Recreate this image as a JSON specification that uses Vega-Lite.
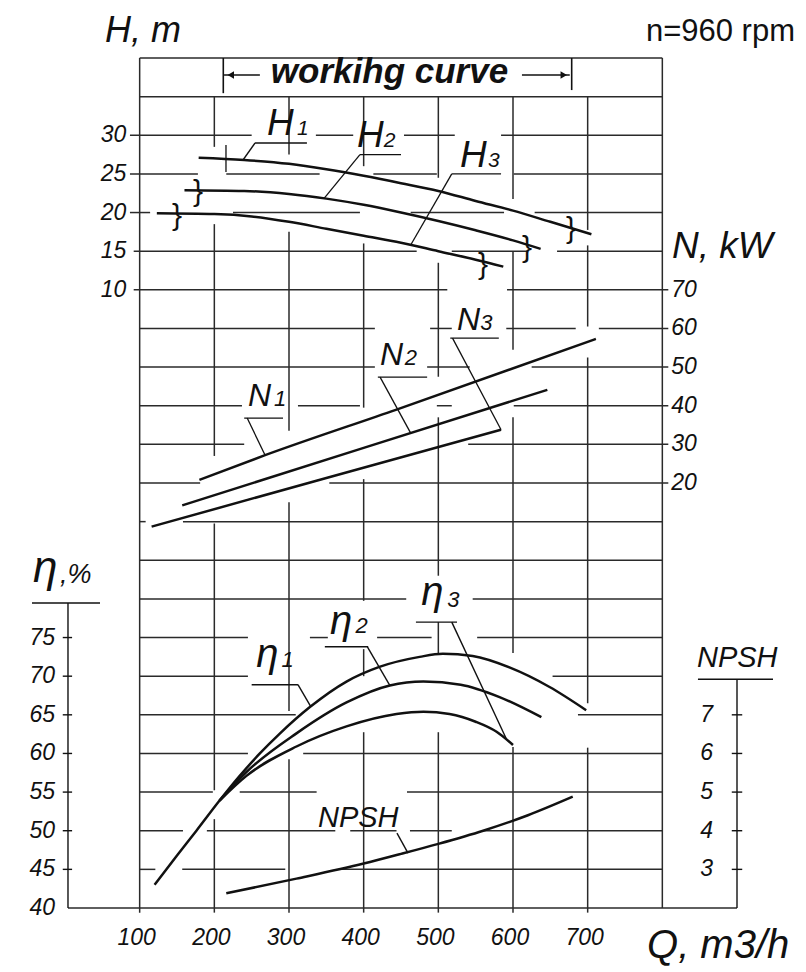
{
  "$schema": "https://vega.github.io/schema/vega-lite/v6.json",
  "width": 672,
  "height": 850,
  "autosize": {"type": "none"},
  "padding": {"left": 65, "top": 58, "right": 69, "bottom": 64},
  "background": "#ffffff",
  "config": {"view": {"stroke": null}},
  "datasets": {
    "hgrid": [
      {"row": 22, "q1": 100, "q2": 800},
      {"row": 21, "q1": 100, "q2": 800},
      {"row": 20, "q1": 87, "q2": 250}, {"row": 20, "q1": 336, "q2": 386}, {"row": 20, "q1": 454, "q2": 522}, {"row": 20, "q1": 584, "q2": 800},
      {"row": 19, "q1": 87, "q2": 178}, {"row": 19, "q1": 216, "q2": 341}, {"row": 19, "q1": 413, "q2": 498}, {"row": 19, "q1": 601, "q2": 800},
      {"row": 18, "q1": 87, "q2": 114}, {"row": 18, "q1": 225, "q2": 395}, {"row": 18, "q1": 463, "q2": 588}, {"row": 18, "q1": 629, "q2": 800},
      {"row": 17, "q1": 92, "q2": 471}, {"row": 17, "q1": 518, "q2": 619}, {"row": 17, "q1": 659, "q2": 800},
      {"row": 16, "q1": 92, "q2": 512}, {"row": 16, "q1": 592, "q2": 808},
      {"row": 15, "q1": 100, "q2": 415}, {"row": 15, "q1": 489, "q2": 518}, {"row": 15, "q1": 591, "q2": 684}, {"row": 15, "q1": 715, "q2": 808},
      {"row": 14, "q1": 100, "q2": 415}, {"row": 14, "q1": 485, "q2": 542}, {"row": 14, "q1": 625, "q2": 808},
      {"row": 13, "q1": 100, "q2": 237}, {"row": 13, "q1": 312, "q2": 395}, {"row": 13, "q1": 498, "q2": 518}, {"row": 13, "q1": 601, "q2": 808},
      {"row": 12, "q1": 100, "q2": 240}, {"row": 12, "q1": 540, "q2": 808},
      {"row": 11, "q1": 100, "q2": 181}, {"row": 11, "q1": 354, "q2": 808},
      {"row": 10, "q1": 100, "q2": 108}, {"row": 10, "q1": 158, "q2": 800},
      {"row": 9, "q1": 100, "q2": 800},
      {"row": 8, "q1": 100, "q2": 457}, {"row": 8, "q1": 546, "q2": 800},
      {"row": 7, "q1": 100, "q2": 245}, {"row": 7, "q1": 328, "q2": 352}, {"row": 7, "q1": 418, "q2": 491}, {"row": 7, "q1": 552, "q2": 800},
      {"row": 6, "q1": 100, "q2": 245}, {"row": 6, "q1": 653, "q2": 800},
      {"row": 5, "q1": 100, "q2": 309}, {"row": 5, "q1": 687, "q2": 800},
      {"row": 4, "q1": 100, "q2": 245}, {"row": 4, "q1": 319, "q2": 800},
      {"row": 3, "q1": 100, "q2": 198}, {"row": 3, "q1": 234, "q2": 337}, {"row": 3, "q1": 458, "q2": 800},
      {"row": 2, "q1": 100, "q2": 158}, {"row": 2, "q1": 190, "q2": 362}, {"row": 2, "q1": 382, "q2": 444}, {"row": 2, "q1": 462, "q2": 518}, {"row": 2, "q1": 560, "q2": 800},
      {"row": 1, "q1": 100, "q2": 121}, {"row": 1, "q1": 157, "q2": 295}, {"row": 1, "q1": 371, "q2": 800},
      {"row": 0, "q1": 4, "q2": 900}
    ],
    "vgrid": [
      {"q": 100, "r1": -0.12, "r2": 22},
      {"q": 200, "r1": -0.12, "r2": 2.3}, {"q": 200, "r1": 3.05, "r2": 9.95}, {"q": 200, "r1": 11.7, "r2": 17.7}, {"q": 200, "r1": 19.7, "r2": 21},
      {"q": 300, "r1": -0.12, "r2": 3.85}, {"q": 300, "r1": 5.1, "r2": 10.5}, {"q": 300, "r1": 12.35, "r2": 17.5}, {"q": 300, "r1": 19.5, "r2": 21},
      {"q": 400, "r1": -0.12, "r2": 4.55}, {"q": 400, "r1": 6.0, "r2": 6.7}, {"q": 400, "r1": 7.95, "r2": 11.1}, {"q": 400, "r1": 12.95, "r2": 17.2}, {"q": 400, "r1": 19.2, "r2": 21},
      {"q": 500, "r1": -0.12, "r2": 4.55}, {"q": 500, "r1": 6.6, "r2": 7.4}, {"q": 500, "r1": 8.6, "r2": 12.7}, {"q": 500, "r1": 13.75, "r2": 16.7}, {"q": 500, "r1": 18.9, "r2": 21},
      {"q": 600, "r1": -0.12, "r2": 4.17}, {"q": 600, "r1": 6.6, "r2": 12.7}, {"q": 600, "r1": 14.45, "r2": 17.0}, {"q": 600, "r1": 18.35, "r2": 21},
      {"q": 700, "r1": -0.12, "r2": 4.15}, {"q": 700, "r1": 5.3, "r2": 14.25}, {"q": 700, "r1": 15.05, "r2": 17.15}, {"q": 700, "r1": 17.55, "r2": 21},
      {"q": 800, "r1": 0, "r2": 22}
    ],
    "head": [
      {"c": "H1", "q": 179, "h": 27.1}, {"c": "H1", "q": 240, "h": 26.8}, {"c": "H1", "q": 300, "h": 26.3}, {"c": "H1", "q": 350, "h": 25.6},
      {"c": "H1", "q": 400, "h": 24.75}, {"c": "H1", "q": 450, "h": 23.8}, {"c": "H1", "q": 500, "h": 22.8}, {"c": "H1", "q": 550, "h": 21.5},
      {"c": "H1", "q": 600, "h": 20.25}, {"c": "H1", "q": 650, "h": 18.8}, {"c": "H1", "q": 705, "h": 17.2},
      {"c": "H2", "q": 160, "h": 22.9}, {"c": "H2", "q": 240, "h": 22.8}, {"c": "H2", "q": 300, "h": 22.4}, {"c": "H2", "q": 350, "h": 21.8},
      {"c": "H2", "q": 400, "h": 21.0}, {"c": "H2", "q": 450, "h": 20.0}, {"c": "H2", "q": 500, "h": 18.9}, {"c": "H2", "q": 550, "h": 17.7},
      {"c": "H2", "q": 600, "h": 16.4}, {"c": "H2", "q": 637, "h": 15.3},
      {"c": "H3", "q": 123, "h": 19.9}, {"c": "H3", "q": 200, "h": 19.8}, {"c": "H3", "q": 250, "h": 19.5}, {"c": "H3", "q": 300, "h": 18.8},
      {"c": "H3", "q": 350, "h": 17.9}, {"c": "H3", "q": 400, "h": 17.0}, {"c": "H3", "q": 450, "h": 16.1}, {"c": "H3", "q": 500, "h": 15.0},
      {"c": "H3", "q": 550, "h": 13.9}, {"c": "H3", "q": 587, "h": 13.0}
    ],
    "power": [
      {"c": "N1", "q": 180, "n": 20.8}, {"c": "N1", "q": 268, "n": 27.2}, {"c": "N1", "q": 444, "n": 39.0}, {"c": "N1", "q": 711, "n": 57.3},
      {"c": "N2", "q": 157, "n": 14.2}, {"c": "N2", "q": 400, "n": 29.1}, {"c": "N2", "q": 646, "n": 44.1},
      {"c": "N3", "q": 116, "n": 8.7}, {"c": "N3", "q": 350, "n": 21.3}, {"c": "N3", "q": 584, "n": 33.8}
    ],
    "eff": [
      {"c": "η1", "q": 120, "e": 43.0}, {"c": "η1", "q": 150, "e": 46.8}, {"c": "η1", "q": 176, "e": 50.0}, {"c": "η1", "q": 207, "e": 53.9},
      {"c": "η1", "q": 234, "e": 57.1}, {"c": "η1", "q": 260, "e": 59.9}, {"c": "η1", "q": 288, "e": 62.6}, {"c": "η1", "q": 328, "e": 66.0},
      {"c": "η1", "q": 377, "e": 69.3}, {"c": "η1", "q": 421, "e": 71.2}, {"c": "η1", "q": 475, "e": 72.5}, {"c": "η1", "q": 506, "e": 72.9},
      {"c": "η1", "q": 546, "e": 72.6}, {"c": "η1", "q": 596, "e": 71.1}, {"c": "η1", "q": 649, "e": 68.6}, {"c": "η1", "q": 698, "e": 65.6},
      {"c": "η2", "q": 207, "e": 53.9}, {"c": "η2", "q": 243, "e": 57.6}, {"c": "η2", "q": 310, "e": 62.6}, {"c": "η2", "q": 377, "e": 66.6},
      {"c": "η2", "q": 435, "e": 68.8}, {"c": "η2", "q": 480, "e": 69.3}, {"c": "η2", "q": 530, "e": 68.9},
      {"c": "η2", "q": 582, "e": 67.3}, {"c": "η2", "q": 638, "e": 64.7},
      {"c": "η3", "q": 207, "e": 53.9}, {"c": "η3", "q": 243, "e": 57.1}, {"c": "η3", "q": 310, "e": 60.9}, {"c": "η3", "q": 377, "e": 63.5},
      {"c": "η3", "q": 444, "e": 65.1}, {"c": "η3", "q": 480, "e": 65.4}, {"c": "η3", "q": 515, "e": 65.1}, {"c": "η3", "q": 550, "e": 64.1},
      {"c": "η3", "q": 578, "e": 62.8}, {"c": "η3", "q": 600, "e": 61.1}
    ],
    "npsh": [
      {"q": 216, "m": 2.38}, {"q": 310, "m": 2.76}, {"q": 400, "m": 3.15}, {"q": 450, "m": 3.4},
      {"q": 500, "m": 3.66}, {"q": 560, "m": 4.0}, {"q": 620, "m": 4.4}, {"q": 680, "m": 4.88}
    ]
  },
  "resolve": {"scale": {"y": "independent"}},
  "layer": [
    {
      "data": {"name": "hgrid"},
      "mark": {"type": "rule", "stroke": "#2a2a2a", "strokeWidth": 1.5},
      "encoding": {
        "x": {"field": "q1", "type": "quantitative", "scale": {"domain": [0, 900], "nice": false, "zero": false}, "axis": null},
        "x2": {"field": "q2"},
        "y": {"field": "row", "type": "quantitative", "scale": {"domain": [0, 22], "nice": false, "zero": false}, "axis": null}
      }
    },
    {
      "data": {"name": "vgrid"},
      "mark": {"type": "rule", "stroke": "#2a2a2a", "strokeWidth": 1.5},
      "encoding": {
        "x": {"field": "q", "type": "quantitative", "scale": {"domain": [0, 900], "nice": false, "zero": false}, "axis": null},
        "y": {"field": "r1", "type": "quantitative", "scale": {"domain": [0, 22], "nice": false, "zero": false}, "axis": null},
        "y2": {"field": "r2"}
      }
    },
    {
      "data": {"values": [{"q": 212, "r1": 21.09, "r2": 22}, {"q": 678.6, "r1": 21.17, "r2": 22}]},
      "mark": {"type": "rule", "stroke": "#111111", "strokeWidth": 1.6},
      "encoding": {
        "x": {"field": "q", "type": "quantitative", "scale": {"domain": [0, 900], "nice": false, "zero": false}, "axis": null},
        "y": {"field": "r1", "type": "quantitative", "scale": {"domain": [0, 22], "nice": false, "zero": false}, "axis": null},
        "y2": {"field": "r2"}
      }
    },
    {
      "data": {"values": [{"q1": 213, "q2": 261, "row": 21.56}, {"q1": 612, "q2": 676, "row": 21.56}]},
      "mark": {"type": "rule", "stroke": "#111111", "strokeWidth": 1.6},
      "encoding": {
        "x": {"field": "q1", "type": "quantitative", "scale": {"domain": [0, 900], "nice": false, "zero": false}, "axis": null},
        "x2": {"field": "q2"},
        "y": {"field": "row", "type": "quantitative", "scale": {"domain": [0, 22], "nice": false, "zero": false}, "axis": null}
      }
    },
    {
      "data": {"values": [{"q": 222, "row": 21.56, "dir": "left"}, {"q": 668, "row": 21.56, "dir": "right"}]},
      "mark": {"type": "point", "filled": true, "size": 55, "color": "#111111", "opacity": 1},
      "encoding": {
        "x": {"field": "q", "type": "quantitative", "scale": {"domain": [0, 900], "nice": false, "zero": false}, "axis": null},
        "y": {"field": "row", "type": "quantitative", "scale": {"domain": [0, 22], "nice": false, "zero": false}, "axis": null},
        "shape": {"field": "dir", "type": "nominal", "scale": {"domain": ["left", "right"], "range": ["triangle-left", "triangle-right"]}, "legend": null}
      }
    },
    {
      "data": {"values": [{"t": "workihg curve", "q": 434.6, "row": 21.35}]},
      "mark": {"type": "text", "align": "center", "baseline": "alphabetic", "font": "Liberation Sans", "fontSize": 35, "fontWeight": "bold", "fontStyle": "italic", "color": "#111111"},
      "encoding": {
        "x": {"field": "q", "type": "quantitative", "scale": {"domain": [0, 900], "nice": false, "zero": false}, "axis": null},
        "y": {"field": "row", "type": "quantitative", "scale": {"domain": [0, 22], "nice": false, "zero": false}, "axis": null},
        "text": {"field": "t"}
      }
    },
    {
      "data": {"name": "head"},
      "mark": {"type": "line", "stroke": "#111111", "strokeWidth": 2.5, "interpolate": "monotone"},
      "encoding": {
        "x": {"field": "q", "type": "quantitative", "scale": {"domain": [0, 900], "nice": false, "zero": false}, "axis": null},
        "y": {"field": "h", "type": "quantitative", "scale": {"domain": [-70, 40], "nice": false, "zero": false}, "axis": null},
        "detail": {"field": "c", "type": "nominal"}
      }
    },
    {
      "data": {"values": [
        {"q1": 254.5, "h1": 29.0, "q2": 324, "h2": 29.0},
        {"q1": 254.5, "h1": 29.0, "q2": 238.4, "h2": 26.8},
        {"q1": 395, "h1": 27.5, "q2": 450, "h2": 27.5},
        {"q1": 395, "h1": 27.5, "q2": 347, "h2": 21.84},
        {"q1": 518, "h1": 25.0, "q2": 584, "h2": 25.0},
        {"q1": 518, "h1": 25.0, "q2": 463, "h2": 15.8},
        {"q1": 215.6, "h1": 25.25, "q2": 215.6, "h2": 28.74}
      ]},
      "mark": {"type": "rule", "stroke": "#111111", "strokeWidth": 1.3},
      "encoding": {
        "x": {"field": "q1", "type": "quantitative", "scale": {"domain": [0, 900], "nice": false, "zero": false}, "axis": null},
        "x2": {"field": "q2"},
        "y": {"field": "h1", "type": "quantitative", "scale": {"domain": [-70, 40], "nice": false, "zero": false}, "axis": null},
        "y2": {"field": "h2"}
      }
    },
    {
      "data": {"values": [{"q": 178, "h": 22.6}, {"q": 150, "h": 19.55}, {"q": 677.7, "h": 17.87}, {"q": 618.7, "h": 15.45}, {"q": 559.8, "h": 13.17}]},
      "mark": {"type": "text", "text": "}", "align": "center", "baseline": "middle", "font": "Liberation Sans", "fontSize": 30, "color": "#111111"},
      "encoding": {
        "x": {"field": "q", "type": "quantitative", "scale": {"domain": [0, 900], "nice": false, "zero": false}, "axis": null},
        "y": {"field": "h", "type": "quantitative", "scale": {"domain": [-70, 40], "nice": false, "zero": false}, "axis": null}
      }
    },
    {
      "data": {"values": [{"t": "H", "q": 270.5, "h": 30.0}, {"t": "H", "q": 391, "h": 28.5}, {"t": "H", "q": 529, "h": 25.9}]},
      "mark": {"type": "text", "align": "left", "baseline": "alphabetic", "font": "Liberation Sans", "fontSize": 37, "fontStyle": "italic", "color": "#111111"},
      "encoding": {
        "x": {"field": "q", "type": "quantitative", "scale": {"domain": [0, 900], "nice": false, "zero": false}, "axis": null},
        "y": {"field": "h", "type": "quantitative", "scale": {"domain": [-70, 40], "nice": false, "zero": false}, "axis": null},
        "text": {"field": "t"}
      }
    },
    {
      "data": {"values": [{"t": "1", "q": 310.7, "h": 30.0}, {"t": "2", "q": 427, "h": 28.5}, {"t": "3", "q": 566.5, "h": 25.9}]},
      "mark": {"type": "text", "align": "left", "baseline": "alphabetic", "font": "Liberation Sans", "fontSize": 21, "fontStyle": "italic", "color": "#111111"},
      "encoding": {
        "x": {"field": "q", "type": "quantitative", "scale": {"domain": [0, 900], "nice": false, "zero": false}, "axis": null},
        "y": {"field": "h", "type": "quantitative", "scale": {"domain": [-70, 40], "nice": false, "zero": false}, "axis": null},
        "text": {"field": "t"}
      }
    },
    {
      "data": {"values": [{"h": 30}, {"h": 25}, {"h": 20}, {"h": 15}, {"h": 10}]},
      "mark": {"type": "text", "align": "right", "baseline": "middle", "font": "Liberation Sans", "fontSize": 23, "fontStyle": "italic", "color": "#111111"},
      "encoding": {
        "x": {"datum": 82, "type": "quantitative", "scale": {"domain": [0, 900], "nice": false, "zero": false}, "axis": null},
        "y": {"field": "h", "type": "quantitative", "scale": {"domain": [-70, 40], "nice": false, "zero": false}, "axis": null},
        "text": {"field": "h", "type": "quantitative"}
      }
    },
    {
      "data": {"name": "power"},
      "mark": {"type": "line", "stroke": "#111111", "strokeWidth": 2.5, "interpolate": "monotone"},
      "encoding": {
        "x": {"field": "q", "type": "quantitative", "scale": {"domain": [0, 900], "nice": false, "zero": false}, "axis": null},
        "y": {"field": "n", "type": "quantitative", "scale": {"domain": [-90, 130], "nice": false, "zero": false}, "axis": null},
        "detail": {"field": "c", "type": "nominal"}
      }
    },
    {
      "data": {"values": [
        {"q1": 240, "n1": 36.8, "q2": 292, "n2": 36.8},
        {"q1": 244, "n1": 36.8, "q2": 268, "n2": 27.2},
        {"q1": 419, "n1": 47.4, "q2": 485, "n2": 47.4},
        {"q1": 422, "n1": 47.4, "q2": 463, "n2": 32.9},
        {"q1": 516, "n1": 57.5, "q2": 581, "n2": 57.5},
        {"q1": 519, "n1": 57.5, "q2": 584, "n2": 33.8}
      ]},
      "mark": {"type": "rule", "stroke": "#111111", "strokeWidth": 1.3},
      "encoding": {
        "x": {"field": "q1", "type": "quantitative", "scale": {"domain": [0, 900], "nice": false, "zero": false}, "axis": null},
        "x2": {"field": "q2"},
        "y": {"field": "n1", "type": "quantitative", "scale": {"domain": [-90, 130], "nice": false, "zero": false}, "axis": null},
        "y2": {"field": "n2"}
      }
    },
    {
      "data": {"values": [{"t": "N", "q": 245, "n": 40.0}, {"t": "N", "q": 422, "n": 50.6}, {"t": "N", "q": 525, "n": 59.6}]},
      "mark": {"type": "text", "align": "left", "baseline": "alphabetic", "font": "Liberation Sans", "fontSize": 32, "fontStyle": "italic", "color": "#111111"},
      "encoding": {
        "x": {"field": "q", "type": "quantitative", "scale": {"domain": [0, 900], "nice": false, "zero": false}, "axis": null},
        "y": {"field": "n", "type": "quantitative", "scale": {"domain": [-90, 130], "nice": false, "zero": false}, "axis": null},
        "text": {"field": "t"}
      }
    },
    {
      "data": {"values": [{"t": "1", "q": 280, "n": 40.0}, {"t": "2", "q": 455, "n": 50.6}, {"t": "3", "q": 556, "n": 59.6}]},
      "mark": {"type": "text", "align": "left", "baseline": "alphabetic", "font": "Liberation Sans", "fontSize": 22, "fontStyle": "italic", "color": "#111111"},
      "encoding": {
        "x": {"field": "q", "type": "quantitative", "scale": {"domain": [0, 900], "nice": false, "zero": false}, "axis": null},
        "y": {"field": "n", "type": "quantitative", "scale": {"domain": [-90, 130], "nice": false, "zero": false}, "axis": null},
        "text": {"field": "t"}
      }
    },
    {
      "data": {"values": [{"n": 70}, {"n": 60}, {"n": 50}, {"n": 40}, {"n": 30}, {"n": 20}]},
      "mark": {"type": "text", "align": "left", "baseline": "middle", "font": "Liberation Sans", "fontSize": 23, "fontStyle": "italic", "color": "#111111"},
      "encoding": {
        "x": {"datum": 812, "type": "quantitative", "scale": {"domain": [0, 900], "nice": false, "zero": false}, "axis": null},
        "y": {"field": "n", "type": "quantitative", "scale": {"domain": [-90, 130], "nice": false, "zero": false}, "axis": null},
        "text": {"field": "n", "type": "quantitative"}
      }
    },
    {
      "data": {"name": "eff"},
      "mark": {"type": "line", "stroke": "#111111", "strokeWidth": 2.5, "interpolate": "monotone"},
      "encoding": {
        "x": {"field": "q", "type": "quantitative", "scale": {"domain": [0, 900], "nice": false, "zero": false}, "axis": null},
        "y": {"field": "e", "type": "quantitative", "scale": {"domain": [40, 150], "nice": false, "zero": false}, "axis": null},
        "detail": {"field": "c", "type": "nominal"}
      }
    },
    {
      "data": {"values": [
        {"q1": 250, "e1": 68.9, "q2": 312, "e2": 68.9},
        {"q1": 312, "e1": 68.9, "q2": 329, "e2": 66.1},
        {"q1": 348, "e1": 73.8, "q2": 406, "e2": 73.8},
        {"q1": 405, "e1": 73.8, "q2": 435, "e2": 68.8},
        {"q1": 470, "e1": 77.0, "q2": 525, "e2": 77.0},
        {"q1": 518, "e1": 77.0, "q2": 591, "e2": 61.9},
        {"q1": 4, "e1": 40, "q2": 4, "e2": 79.47},
        {"q1": -44.2, "e1": 79.47, "q2": 46.9, "e2": 79.47}
      ]},
      "mark": {"type": "rule", "stroke": "#111111", "strokeWidth": 1.4},
      "encoding": {
        "x": {"field": "q1", "type": "quantitative", "scale": {"domain": [0, 900], "nice": false, "zero": false}, "axis": null},
        "x2": {"field": "q2"},
        "y": {"field": "e1", "type": "quantitative", "scale": {"domain": [40, 150], "nice": false, "zero": false}, "axis": null},
        "y2": {"field": "e2"}
      }
    },
    {
      "data": {"values": [{"e": 75}, {"e": 70}, {"e": 65}, {"e": 60}, {"e": 55}, {"e": 50}, {"e": 45}]},
      "mark": {"type": "rule", "stroke": "#111111", "strokeWidth": 1.4},
      "encoding": {
        "x": {"datum": -3, "type": "quantitative", "scale": {"domain": [0, 900], "nice": false, "zero": false}, "axis": null},
        "x2": {"datum": 9.5},
        "y": {"field": "e", "type": "quantitative", "scale": {"domain": [40, 150], "nice": false, "zero": false}, "axis": null}
      }
    },
    {
      "data": {"values": [{"e": 75}, {"e": 70}, {"e": 65}, {"e": 60}, {"e": 55}, {"e": 50}, {"e": 45}, {"e": 40}]},
      "mark": {"type": "text", "align": "right", "baseline": "middle", "font": "Liberation Sans", "fontSize": 23, "fontStyle": "italic", "color": "#111111"},
      "encoding": {
        "x": {"datum": -13.4, "type": "quantitative", "scale": {"domain": [0, 900], "nice": false, "zero": false}, "axis": null},
        "y": {"field": "e", "type": "quantitative", "scale": {"domain": [40, 150], "nice": false, "zero": false}, "axis": null},
        "text": {"field": "e", "type": "quantitative"}
      }
    },
    {
      "data": {"values": [{"t": "η", "q": 256, "e": 71.2}, {"t": "η", "q": 355, "e": 75.45}, {"t": "η", "q": 477, "e": 79.2}]},
      "mark": {"type": "text", "align": "left", "baseline": "alphabetic", "font": "Liberation Sans", "fontSize": 40, "fontStyle": "italic", "color": "#111111"},
      "encoding": {
        "x": {"field": "q", "type": "quantitative", "scale": {"domain": [0, 900], "nice": false, "zero": false}, "axis": null},
        "y": {"field": "e", "type": "quantitative", "scale": {"domain": [40, 150], "nice": false, "zero": false}, "axis": null},
        "text": {"field": "t"}
      }
    },
    {
      "data": {"values": [{"t": "1", "q": 290, "e": 71.2}, {"t": "2", "q": 389, "e": 75.6}, {"t": "3", "q": 512, "e": 79.0}]},
      "mark": {"type": "text", "align": "left", "baseline": "alphabetic", "font": "Liberation Sans", "fontSize": 22, "fontStyle": "italic", "color": "#111111"},
      "encoding": {
        "x": {"field": "q", "type": "quantitative", "scale": {"domain": [0, 900], "nice": false, "zero": false}, "axis": null},
        "y": {"field": "e", "type": "quantitative", "scale": {"domain": [40, 150], "nice": false, "zero": false}, "axis": null},
        "text": {"field": "t"}
      }
    },
    {
      "data": {"name": "npsh"},
      "mark": {"type": "line", "stroke": "#111111", "strokeWidth": 2.5, "interpolate": "monotone"},
      "encoding": {
        "x": {"field": "q", "type": "quantitative", "scale": {"domain": [0, 900], "nice": false, "zero": false}, "axis": null},
        "y": {"field": "m", "type": "quantitative", "scale": {"domain": [2, 24], "nice": false, "zero": false}, "axis": null}
      }
    },
    {
      "data": {"values": [
        {"q1": 444.6, "m1": 3.94, "q2": 459.4, "m2": 3.42},
        {"q1": 900, "m1": 2, "q2": 900, "m2": 7.92},
        {"q1": 847.7, "m1": 7.92, "q2": 948.2, "m2": 7.92}
      ]},
      "mark": {"type": "rule", "stroke": "#111111", "strokeWidth": 1.4},
      "encoding": {
        "x": {"field": "q1", "type": "quantitative", "scale": {"domain": [0, 900], "nice": false, "zero": false}, "axis": null},
        "x2": {"field": "q2"},
        "y": {"field": "m1", "type": "quantitative", "scale": {"domain": [2, 24], "nice": false, "zero": false}, "axis": null},
        "y2": {"field": "m2"}
      }
    },
    {
      "data": {"values": [{"m": 7}, {"m": 6}, {"m": 5}, {"m": 4}, {"m": 3}]},
      "mark": {"type": "rule", "stroke": "#111111", "strokeWidth": 1.4},
      "encoding": {
        "x": {"datum": 893, "type": "quantitative", "scale": {"domain": [0, 900], "nice": false, "zero": false}, "axis": null},
        "x2": {"datum": 907},
        "y": {"field": "m", "type": "quantitative", "scale": {"domain": [2, 24], "nice": false, "zero": false}, "axis": null}
      }
    },
    {
      "data": {"values": [{"m": 7}, {"m": 6}, {"m": 5}, {"m": 4}, {"m": 3}]},
      "mark": {"type": "text", "align": "right", "baseline": "middle", "font": "Liberation Sans", "fontSize": 23, "fontStyle": "italic", "color": "#111111"},
      "encoding": {
        "x": {"datum": 868, "type": "quantitative", "scale": {"domain": [0, 900], "nice": false, "zero": false}, "axis": null},
        "y": {"field": "m", "type": "quantitative", "scale": {"domain": [2, 24], "nice": false, "zero": false}, "axis": null},
        "text": {"field": "m", "type": "quantitative"}
      }
    },
    {
      "data": {"values": [{"t": "NPSH", "q": 338.8, "m": 4.1}]},
      "mark": {"type": "text", "align": "left", "baseline": "alphabetic", "font": "Liberation Sans", "fontSize": 29, "fontStyle": "italic", "color": "#111111"},
      "encoding": {
        "x": {"field": "q", "type": "quantitative", "scale": {"domain": [0, 900], "nice": false, "zero": false}, "axis": null},
        "y": {"field": "m", "type": "quantitative", "scale": {"domain": [2, 24], "nice": false, "zero": false}, "axis": null},
        "text": {"field": "t"}
      }
    },
    {
      "data": {"values": [{"q": 100}, {"q": 200}, {"q": 300}, {"q": 400}, {"q": 500}, {"q": 600}, {"q": 700}]},
      "mark": {"type": "text", "align": "center", "baseline": "middle", "dx": -3, "font": "Liberation Sans", "fontSize": 23, "fontStyle": "italic", "color": "#111111"},
      "encoding": {
        "x": {"field": "q", "type": "quantitative", "scale": {"domain": [0, 900], "nice": false, "zero": false}, "axis": null},
        "y": {"datum": -0.78, "type": "quantitative", "scale": {"domain": [0, 22], "nice": false, "zero": false}, "axis": null},
        "text": {"field": "q", "type": "quantitative"}
      }
    },
    {
      "data": {"values": [{"t": "H, m", "q": 53.6, "row": 22.41}]},
      "mark": {"type": "text", "align": "left", "baseline": "alphabetic", "font": "Liberation Sans", "fontSize": 36, "fontStyle": "italic", "color": "#111111"},
      "encoding": {
        "x": {"field": "q", "type": "quantitative", "scale": {"domain": [0, 900], "nice": false, "zero": false}, "axis": null},
        "y": {"field": "row", "type": "quantitative", "scale": {"domain": [0, 22], "nice": false, "zero": false}, "axis": null},
        "text": {"field": "t"}
      }
    },
    {
      "data": {"values": [{"t": "N, kW", "q": 812.9, "row": 16.82}]},
      "mark": {"type": "text", "align": "left", "baseline": "alphabetic", "font": "Liberation Sans", "fontSize": 37, "fontStyle": "italic", "color": "#111111"},
      "encoding": {
        "x": {"field": "q", "type": "quantitative", "scale": {"domain": [0, 900], "nice": false, "zero": false}, "axis": null},
        "y": {"field": "row", "type": "quantitative", "scale": {"domain": [0, 22], "nice": false, "zero": false}, "axis": null},
        "text": {"field": "t"}
      }
    },
    {
      "data": {"values": [{"t": "Q, m3/h", "q": 779.5, "row": -1.29}]},
      "mark": {"type": "text", "align": "left", "baseline": "alphabetic", "font": "Liberation Sans", "fontSize": 40, "fontStyle": "italic", "color": "#111111"},
      "encoding": {
        "x": {"field": "q", "type": "quantitative", "scale": {"domain": [0, 900], "nice": false, "zero": false}, "axis": null},
        "y": {"field": "row", "type": "quantitative", "scale": {"domain": [0, 22], "nice": false, "zero": false}, "axis": null},
        "text": {"field": "t"}
      }
    },
    {
      "data": {"values": [{"t": "n=960 rpm", "q": 977.7, "row": 22.43}]},
      "mark": {"type": "text", "align": "right", "baseline": "alphabetic", "font": "Liberation Sans", "fontSize": 31, "color": "#111111"},
      "encoding": {
        "x": {"field": "q", "type": "quantitative", "scale": {"domain": [0, 900], "nice": false, "zero": false}, "axis": null},
        "y": {"field": "row", "type": "quantitative", "scale": {"domain": [0, 22], "nice": false, "zero": false}, "axis": null},
        "text": {"field": "t"}
      }
    },
    {
      "data": {"values": [{"t": "η", "q": -42.9, "row": 8.44}]},
      "mark": {"type": "text", "align": "left", "baseline": "alphabetic", "font": "Liberation Sans", "fontSize": 44, "fontStyle": "italic", "color": "#111111"},
      "encoding": {
        "x": {"field": "q", "type": "quantitative", "scale": {"domain": [0, 900], "nice": false, "zero": false}, "axis": null},
        "y": {"field": "row", "type": "quantitative", "scale": {"domain": [0, 22], "nice": false, "zero": false}, "axis": null},
        "text": {"field": "t"}
      }
    },
    {
      "data": {"values": [{"t": ",%", "q": -6.7, "row": 8.41}]},
      "mark": {"type": "text", "align": "left", "baseline": "alphabetic", "font": "Liberation Sans", "fontSize": 27, "fontStyle": "italic", "color": "#111111"},
      "encoding": {
        "x": {"field": "q", "type": "quantitative", "scale": {"domain": [0, 900], "nice": false, "zero": false}, "axis": null},
        "y": {"field": "row", "type": "quantitative", "scale": {"domain": [0, 22], "nice": false, "zero": false}, "axis": null},
        "text": {"field": "t"}
      }
    },
    {
      "data": {"values": [{"t": "NPSH", "q": 846.4, "row": 6.24}]},
      "mark": {"type": "text", "align": "left", "baseline": "alphabetic", "font": "Liberation Sans", "fontSize": 29, "fontStyle": "italic", "color": "#111111"},
      "encoding": {
        "x": {"field": "q", "type": "quantitative", "scale": {"domain": [0, 900], "nice": false, "zero": false}, "axis": null},
        "y": {"field": "row", "type": "quantitative", "scale": {"domain": [0, 22], "nice": false, "zero": false}, "axis": null},
        "text": {"field": "t"}
      }
    }
  ]
}
